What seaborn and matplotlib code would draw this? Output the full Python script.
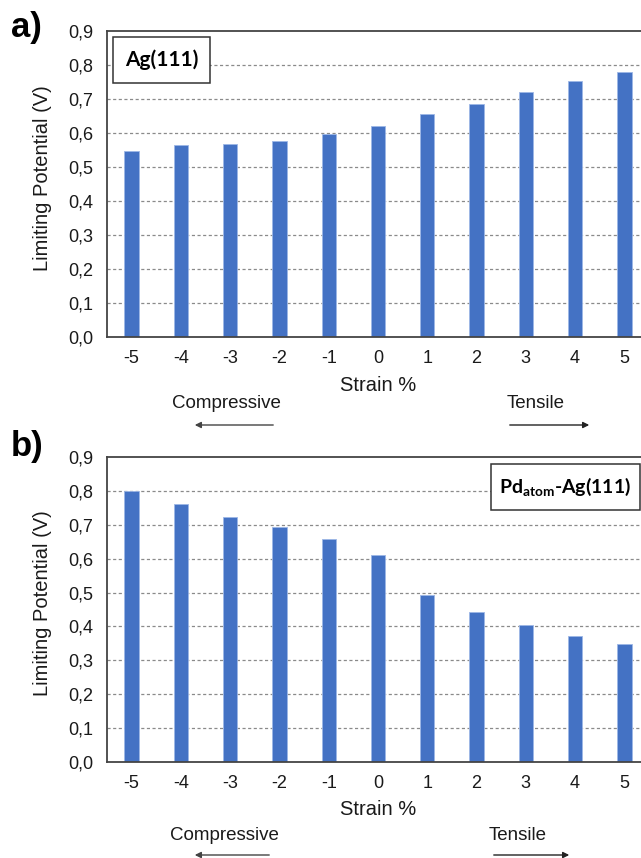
import matplotlib
matplotlib.use("Agg")
import matplotlib.pyplot as plt
import seaborn as sns
import pandas as pd
from matplotlib.patches import Rectangle

strain = ["-5", "-4", "-3", "-2", "-1", "0", "1", "2", "3", "4", "5"]
ag111 = [0.548, 0.564, 0.568, 0.577, 0.598, 0.622, 0.657, 0.686, 0.722, 0.754, 0.779]
pd_ag111 = [0.799, 0.760, 0.722, 0.692, 0.659, 0.611, 0.494, 0.444, 0.405, 0.372, 0.347]
yticks = [0.0, 0.1, 0.2, 0.3, 0.4, 0.5, 0.6, 0.7, 0.8, 0.9]
ytick_labels = ["0,0", "0,1", "0,2", "0,3", "0,4", "0,5", "0,6", "0,7", "0,8", "0,9"]

sns.set_style("white")
plt.rcParams['font.family'] = ['Liberation Sans', 'DejaVu Sans']
plt.rcParams['mathtext.fontset'] = 'custom'
plt.rcParams['mathtext.rm'] = 'Lato:bold'
plt.rcParams['mathtext.it'] = 'Lato:bold'
plt.rcParams['mathtext.bf'] = 'Lato:bold'

W, H = 641, 858
fig = plt.figure(figsize=(W / 100, H / 100), dpi=100)
fig.patch.set_facecolor('white')

BAR = '#4472C4'
TXT = '#1a1a1a'

def px(x0, y0, x1, y1):
    return [x0 / W, 1 - y1 / H, (x1 - x0) / W, (y1 - y0) / H]

ax_a = fig.add_axes(px(107, 31, 649, 337))
ax_b = fig.add_axes(px(107, 457, 649, 762))

def draw(ax, vals, label, box, fs):
    df = pd.DataFrame({"Strain": strain, "V": vals})
    ax.set_axisbelow(True)
    for yv in yticks[1:-1]:
        ax.axhline(yv, color='#8a8a8a', lw=0.9, ls=(0, (2.5, 2)), zorder=0)
    sns.barplot(data=df, x="Strain", y="V", order=strain, color=BAR, saturation=1,
                width=0.29, edgecolor='#9db7e6', linewidth=0.6, ax=ax, zorder=2)
    ax.set_ylim(0, 0.9)
    ax.set_xlim(-0.5, len(strain) - 0.5)
    ax.set_yticks(yticks)
    ax.set_yticklabels(ytick_labels)
    ax.tick_params(axis='y', length=0, pad=10, labelsize=13, labelcolor=TXT)
    ax.tick_params(axis='x', length=0, pad=9, labelsize=13, labelcolor=TXT)
    for s in ['left', 'bottom', 'top']:
        ax.spines[s].set_visible(True)
        ax.spines[s].set_color('#444444')
        ax.spines[s].set_linewidth(1.3)
    ax.spines['right'].set_visible(False)
    ax.set_ylabel("Limiting Potential (V)", fontsize=14.5, color=TXT)
    ax.yaxis.set_label_coords(-0.1015, 0.52)
    ax.set_xlabel("Strain %", fontsize=14.5, color=TXT)
    ax.xaxis.label.set_va('center')
    ax.xaxis.set_label_coords(0.5, -0.157)
    x0, y0, x1, y1, tx, ty = box
    ax.add_patch(Rectangle((x0, y0), x1 - x0, y1 - y0, transform=ax.transAxes,
                           facecolor='white', edgecolor='#333333', lw=1.1, zorder=5,
                           clip_on=False))
    ax.text(tx, ty, label, transform=ax.transAxes, ha='center', va='center',
            fontsize=fs, fontweight='bold', family=['Lato', 'DejaVu Sans'],
            color='black', zorder=6)

draw(ax_a, ag111, "Ag(111)", (0.011, 0.830, 0.19, 0.980, 0.1008, 0.905), 15)
draw(ax_b, pd_ag111, r"Pd$_{\mathrm{atom}}$-Ag(111)", (0.7085, 0.826, 0.983, 0.977, 0.846, 0.902), 14)

fig.text(11 / W, 1 - 28 / H, "a)", fontsize=25, fontweight='bold', va='center', ha='left', color='black')
fig.text(11 / W, 1 - 447 / H, "b)", fontsize=25, fontweight='bold', va='center', ha='left', color='black')

def annot(cx_comp, cx_tens, ty, ay, comp_x, tens_x):
    fig.text(cx_comp / W, 1 - ty / H, "Compressive", fontsize=13.5, ha='center', va='center', color=TXT)
    fig.text(cx_tens / W, 1 - ty / H, "Tensile", fontsize=13.5, ha='center', va='center', color=TXT)
    fig.add_artist(matplotlib.patches.FancyArrowPatch(
        (comp_x[0] / W, 1 - ay / H), (comp_x[1] / W, 1 - ay / H), transform=fig.transFigure,
        arrowstyle='-|>', mutation_scale=9, color='#444444', lw=1.0))
    fig.add_artist(matplotlib.patches.FancyArrowPatch(
        (tens_x[0] / W, 1 - ay / H), (tens_x[1] / W, 1 - ay / H), transform=fig.transFigure,
        arrowstyle='-|>', mutation_scale=9, color='#222222', lw=1.0))

annot(226.5, 536, 403, 425, (276, 192), (507, 592))
annot(224.5, 518, 835, 855, (272, 192), (491, 572))

fig.savefig("out.png", dpi=100, facecolor='white')
